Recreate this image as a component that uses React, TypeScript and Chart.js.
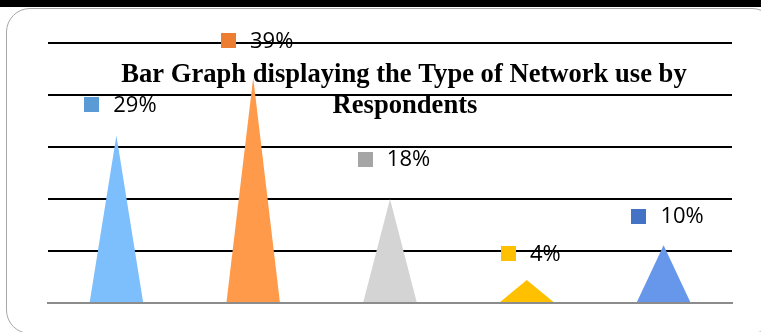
import { useEffect, useRef } from "react";
import { Chart, registerables } from "chart.js";

Chart.register(...registerables);

// Share of respondents by network type
const networkTypes = ["Network 1", "Network 2", "Network 3", "Network 4", "Network 5"];
const shares = [29, 39, 18, 4, 10];
const shareLabels = ["29%", "39%", "18%", "4%", "10%"];

// Value axis: gridlines every 9 points up to 45
const axisMax = 45;
const axisStep = 9;

const titleLines = ["Bar Graph displaying the Type of Network use by", "Respondents"];

const coneColors = ["#7dbefd", "#ff9a4a", "#d4d4d4", "#ffc000", "#6697ea"];
const markerColors = ["#5b9bd5", "#ed7d31", "#a5a5a5", "#ffc000", "#4472c4"];
const labelLift = [31, 37, 40, 26, 29];

const conePlugin = {
  id: "cones",
  afterDatasetsDraw(chart: any) {
    const ctx = chart.ctx;
    const meta = chart.getDatasetMeta(0);
    meta.data.forEach((bar: any, i: number) => {
      const { x, y, base, width } = bar.getProps(["x", "y", "base", "width"], true);
      ctx.save();
      ctx.fillStyle = coneColors[i];
      ctx.beginPath();
      ctx.moveTo(x - width / 2, base);
      ctx.lineTo(x, y);
      ctx.lineTo(x + width / 2, base);
      ctx.closePath();
      ctx.fill();
      ctx.restore();
    });
  },
};

const labelPlugin = {
  id: "shareLabels",
  afterDraw(chart: any) {
    const ctx = chart.ctx;
    const meta = chart.getDatasetMeta(0);
    ctx.save();
    ctx.font = "22px 'Open Sans'";
    ctx.textBaseline = "middle";
    ctx.textAlign = "left";
    meta.data.forEach((bar: any, i: number) => {
      const { x, y } = bar.getProps(["x", "y"], true);
      const text = shareLabels[i];
      const tw = ctx.measureText(text).width;
      const box = 15;
      const gap = 14;
      const groupW = box + gap + tw;
      const left = x - groupW / 2 + 4;
      const cy = y - labelLift[i];
      ctx.fillStyle = markerColors[i];
      ctx.fillRect(Math.round(left), Math.round(cy - box / 2), box, box);
      ctx.fillStyle = "#000";
      ctx.fillText(text, left + box + gap, cy + 1);
    });
    ctx.restore();

    // chart title, laid over the plot
    ctx.save();
    ctx.font = "bold 26.6px 'Liberation Serif'";
    ctx.fillStyle = "#000";
    ctx.textAlign = "center";
    ctx.textBaseline = "alphabetic";
    ctx.fillText(titleLines[0], 404, 82);
    ctx.fillText(titleLines[1], 405, 113);
    ctx.restore();
  },
};

function NetworkChart() {
  const canvasRef = useRef<HTMLCanvasElement | null>(null);

  useEffect(() => {
    if (!canvasRef.current) return;
    const chart = new Chart(canvasRef.current, {
      type: "bar",
      data: {
        labels: networkTypes,
        datasets: [
          {
            data: shares,
            backgroundColor: "rgba(0,0,0,0)",
            borderWidth: 0,
            categoryPercentage: 1,
            barPercentage: 0.39,
          },
        ],
      },
      options: {
        responsive: false,
        animation: false,
        events: [],
        layout: { padding: { left: 48, right: 29, top: 43, bottom: 29 } },
        plugins: {
          legend: { display: false },
          title: { display: false },
          tooltip: { enabled: false },
        },
        scales: {
          x: {
            z: 1,
            grid: { display: false, drawTicks: false },
            ticks: { display: false },
            border: { display: true, color: "#8c8c8c", width: 2 },
            afterFit: (s: any) => {
              s.height = 0;
            },
          },
          y: {
            min: 0,
            max: axisMax,
            ticks: { display: false, stepSize: axisStep },
            grid: {
              drawTicks: false,
              lineWidth: 2,
              color: (c: any) => (c.tick && c.tick.value === 0 ? "rgba(0,0,0,0)" : "#000"),
            },
            border: { display: false },
            afterFit: (s: any) => {
              s.width = 0;
            },
          },
        },
      },
      plugins: [conePlugin, labelPlugin],
    });
    return () => chart.destroy();
  }, []);

  return (
    <canvas
      ref={canvasRef}
      width={761}
      height={332}
      style={{ position: "absolute", left: 0, top: 0, display: "block" }}
    />
  );
}

export default function App() {
  return (
    <div
      style={{
        position: "fixed",
        left: 0,
        top: 0,
        width: 761,
        height: 332,
        background: "#fff",
        overflow: "hidden",
      }}
    >
      <div style={{ position: "absolute", left: 0, top: 0, width: 761, height: 7, background: "#000" }} />
      <div
        style={{
          position: "absolute",
          left: 6,
          top: 8,
          width: 770,
          height: 326,
          border: "1.5px solid #a8a8a8",
          borderRadius: 24,
          boxSizing: "border-box",
        }}
      />
      <NetworkChart />
    </div>
  );
}
